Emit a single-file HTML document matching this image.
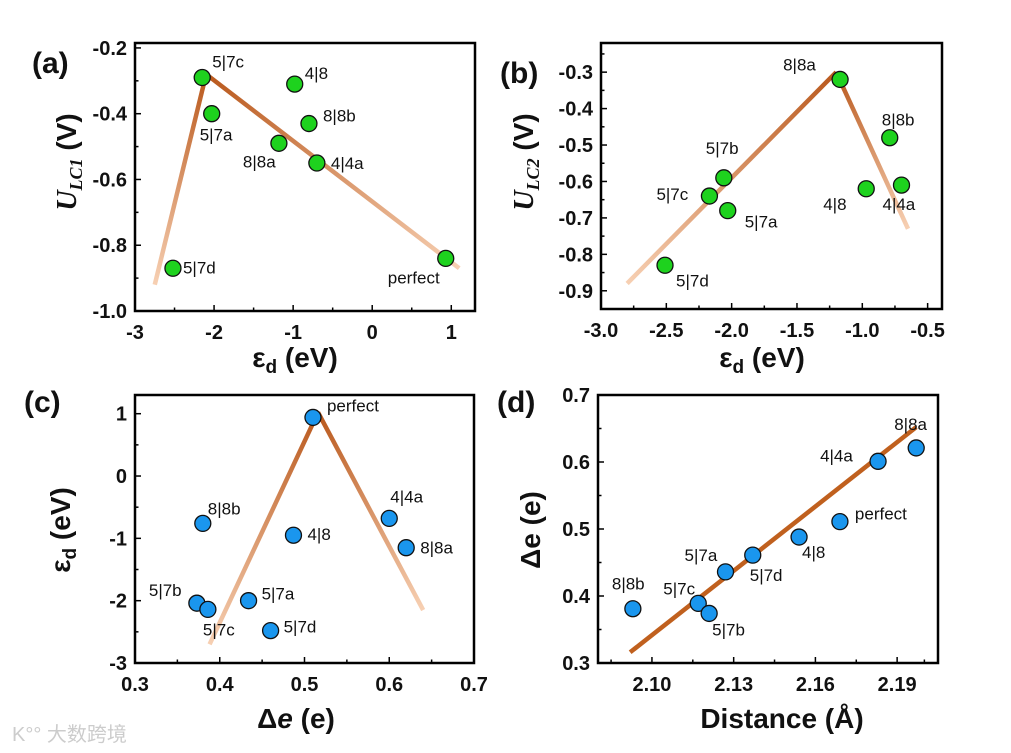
<!DOCTYPE html>
<html><head><meta charset="utf-8">
<style>
body{margin:0;background:#fff;width:1011px;height:753px;overflow:hidden}
svg{display:block}
text{font-family:"Liberation Sans",Arial,sans-serif}
.tick{font-size:20px;font-weight:bold;fill:#111}
.lab{font-size:17px;fill:#111}
.title{font-size:28px;font-weight:bold;fill:#111}
.pl{font-size:30px;font-weight:bold;fill:#111}
</style></head>
<body>
<svg id="fig" width="1011" height="753" viewBox="0 0 1011 753" xmlns="http://www.w3.org/2000/svg">
<defs id="defs"></defs>
<text x="12" y="741" font-family="'Noto Sans CJK SC',sans-serif" font-size="20" fill="#ccc">K°° 大数跨境</text>
</svg>
<script>
// ---- Panel (a) data ----
const aNames=["5|7c","5|7a","4|8","8|8b","8|8a","4|4a","5|7d","perfect"];
const aX=[-2.15,-2.03,-0.98,-0.8,-1.18,-0.7,-2.52,0.93];
const aY=[-0.29,-0.40,-0.31,-0.43,-0.49,-0.55,-0.87,-0.84];
const aLineX=[-2.75,-2.1,1.1];
const aLineY=[-0.92,-0.28,-0.87];
const aXTicks=[-3,-2,-1,0,1];
const aYTicks=[-1.0,-0.8,-0.6,-0.4,-0.2];
// ---- Panel (b) data ----
const bNames=["8|8a","8|8b","4|8","4|4a","5|7b","5|7c","5|7a","5|7d"];
const bX=[-1.17,-0.79,-0.97,-0.7,-2.06,-2.17,-2.03,-2.51];
const bY=[-0.32,-0.48,-0.62,-0.61,-0.59,-0.64,-0.68,-0.83];
const bLineX=[-2.8,-1.2,-0.65];
const bLineY=[-0.88,-0.30,-0.73];
const bXTicks=[-3.0,-2.5,-2.0,-1.5,-1.0,-0.5];
const bYTicks=[-0.9,-0.8,-0.7,-0.6,-0.5,-0.4,-0.3];
// ---- Panel (c) data ----
const cNames=["perfect","4|4a","8|8a","4|8","8|8b","5|7b","5|7c","5|7a","5|7d"];
const cX=[0.51,0.6,0.62,0.487,0.38,0.373,0.386,0.434,0.46];
const cY=[0.94,-0.68,-1.15,-0.95,-0.76,-2.04,-2.14,-2.0,-2.48];
const cLineX=[0.388,0.516,0.64];
const cLineY=[-2.7,1.02,-2.15];
const cXTicks=[0.3,0.4,0.5,0.6,0.7];
const cYTicks=[-3,-2,-1,0,1];
// ---- Panel (d) data ----
const dNames=["8|8b","5|7c","5|7b","5|7a","5|7d","4|8","perfect","4|4a","8|8a"];
const dX=[2.093,2.117,2.121,2.127,2.137,2.154,2.169,2.183,2.197];
const dY=[0.381,0.389,0.374,0.436,0.461,0.488,0.511,0.601,0.621];
const dLineX=[2.092,2.197];
const dLineY=[0.316,0.652];
const dXTicks=[2.10,2.13,2.16,2.19];
const dYTicks=[0.3,0.4,0.5,0.6,0.7];

// label placement offsets (layout only)
const aOff=[[10,-10],[-12,27],[10,-5],[14,-2],[-36,24],[14,6],[10,5],[-58,25]];
const bOff=[[-57,-9],[-8,-12],[-43,21],[-19,25],[-18,-24],[-53,4],[17,17],[11,21]];
const cOff=[[14,-6],[1,-16],[14,6],[14,5],[5,-9],[-48,-7],[-5,26],[13,-1],[13,2]];
const dOff=[[-21,-19],[-35,-9],[3,22],[-41,-11],[-3,26],[3,21],[15,-2],[-58,0],[-22,-18]];

const NS="http://www.w3.org/2000/svg";
const svg=document.getElementById('fig');
const defs=document.getElementById('defs');
function el(tag,attrs,parent){const e=document.createElementNS(NS,tag);for(const k in attrs)e.setAttribute(k,attrs[k]);(parent||svg).appendChild(e);return e;}
let gid=0;

function panel(cfg){
  const g=el('g',{});
  
  
  const sx=v=>cfg.L+(v-cfg.x0)/(cfg.x1-cfg.x0)*(cfg.R-cfg.L);
  const sy=v=>cfg.B-(v-cfg.y0)/(cfg.y1-cfg.y0)*(cfg.B-cfg.T);
  cfg.xt.forEach((v,i)=>{
    const x=sx(v);
    const t=el('line',{x1:x,x2:x,y1:cfg.B,y2:cfg.B-6,stroke:'#000','stroke-width':1.5},g);
    
    
    const tx=el('text',{x:x,y:cfg.B+28,'text-anchor':'middle',class:'tick'},g);
    tx.textContent=cfg.xfmt(v);
    
    
    if(i<cfg.xt.length-1){const m=sx((v+cfg.xt[i+1])/2);
      el('line',{x1:m,x2:m,y1:cfg.B,y2:cfg.B-3.5,stroke:'#000','stroke-width':1.5},g);}
  });
  if(cfg.xMinorEdge){cfg.xMinorEdge.forEach(v=>{const m=sx(v);el('line',{x1:m,x2:m,y1:cfg.B,y2:cfg.B-3.5,stroke:'#000','stroke-width':1.5},g);});}
  cfg.yt.forEach((v,i)=>{
    const y=sy(v);
    const t=el('line',{x1:cfg.L,x2:cfg.L+6,y1:y,y2:y,stroke:'#000','stroke-width':1.5},g);
    
    
    const tx=el('text',{x:cfg.L-8,y:y+7,'text-anchor':'end',class:'tick'},g);
    tx.textContent=cfg.yfmt(v);
    
    
    if(i<cfg.yt.length-1){const m=sy((v+cfg.yt[i+1])/2);
      el('line',{x1:cfg.L,x2:cfg.L+3.5,y1:m,y2:m,stroke:'#000','stroke-width':1.5},g);}
  });
  if(cfg.yMinorEdge){cfg.yMinorEdge.forEach(v=>{const m=sy(v);el('line',{x1:cfg.L,x2:cfg.L+3.5,y1:m,y2:m,stroke:'#000','stroke-width':1.5},g);});}
  for(let i=0;i<cfg.lx.length-1;i++){
    const x1=sx(cfg.lx[i]),y1=sy(cfg.ly[i]),x2=sx(cfg.lx[i+1]),y2=sy(cfg.ly[i+1]);
    let stroke='#c0601e';
    if(cfg.grad){
      const id='gr'+(gid++);
      const peakFirst=(i>0);
      const lg=el('linearGradient',{id:id,gradientUnits:'userSpaceOnUse',x1:x1,y1:y1,x2:x2,y2:y2},defs);
      el('stop',{offset:0,'stop-color':peakFirst?'#b9581c':'#f7d0b3'},lg);
      el('stop',{offset:1,'stop-color':peakFirst?'#f7d0b3':'#b9581c'},lg);
      stroke='url(#'+id+')';
    }
    const ln=el('line',{x1:x1,y1:y1,x2:x2,y2:y2,stroke:stroke,'stroke-width':4.5},g);
    
    
  }
  cfg.px.forEach((v,i)=>{
    const cx=sx(v),cy=sy(cfg.py[i]);
    const c=el('circle',{cx:cx,cy:cy,r:8,fill:cfg.color,stroke:'#111','stroke-width':1.3},g);
    
    
    const t=el('text',{x:cx+cfg.off[i][0],y:cy+cfg.off[i][1],class:'lab'},g);
    t.textContent=cfg.names[i];
    
    
  });
  const box=el('rect',{x:cfg.L,y:cfg.T,width:cfg.R-cfg.L,height:cfg.B-cfg.T,fill:'none',stroke:'#000','stroke-width':2.5},g);
  
  
  const pl=el('text',{x:cfg.plx,y:cfg.ply,class:'pl'},g);
  pl.textContent=cfg.plabel;
  
  
  const xt=el('text',{x:cfg.xtx,y:cfg.xty,'text-anchor':'middle',class:'title'},g);
  xt.innerHTML=cfg.xtitle;
  
  
  const yt=el('text',{x:0,y:0,'text-anchor':'middle',class:'title',transform:'translate('+cfg.ytx+','+cfg.yty+') rotate(-90)'},g);
  yt.innerHTML=cfg.ytitle;
  
  
}
const f1=v=>v.toFixed(1), f0=v=>String(v), f2=v=>v.toFixed(2);
const epsT='ε<tspan font-size="19" dy="6">d</tspan><tspan dy="-6"> (eV)</tspan>';
panel({id:'a',L:135,R:475,T:43,B:311,x0:-3,x1:1.3,y0:-1.0,y1:-0.185,xt:aXTicks,yt:aYTicks,xMinorEdge:[],yMinorEdge:[],
  xfmt:f0,yfmt:f1,px:aX,py:aY,names:aNames,off:aOff,lx:aLineX,ly:aLineY,grad:true,color:'#1ed21e',
  plabel:'(a)',plx:32,ply:73,xtitle:epsT,xtx:295,xty:367,
  ytitle:'<tspan font-family="Liberation Serif" font-style="italic">U</tspan><tspan font-family="Liberation Serif" font-style="italic" font-size="18" dy="6">LC1</tspan><tspan dy="-6"> (V)</tspan>',ytx:76,yty:162});
panel({id:'b',L:601,R:942,T:43,B:309,x0:-3,x1:-0.39,y0:-0.95,y1:-0.22,xt:bXTicks,yt:bYTicks,xMinorEdge:[],yMinorEdge:[-0.25],
  xfmt:f1,yfmt:f1,px:bX,py:bY,names:bNames,off:bOff,lx:bLineX,ly:bLineY,grad:true,color:'#1ed21e',
  plabel:'(b)',plx:500,ply:83,xtitle:epsT,xtx:762,xty:367,
  ytitle:'<tspan font-family="Liberation Serif" font-style="italic">U</tspan><tspan font-family="Liberation Serif" font-style="italic" font-size="18" dy="6">LC2</tspan><tspan dy="-6"> (V)</tspan>',ytx:533,yty:162});
panel({id:'c',L:135,R:474,T:395,B:663,x0:0.3,x1:0.7,y0:-3,y1:1.3,xt:cXTicks,yt:cYTicks,xMinorEdge:[],yMinorEdge:[],
  xfmt:f1,yfmt:f0,px:cX,py:cY,names:cNames,off:cOff,lx:cLineX,ly:cLineY,grad:true,color:'#1a96ee',
  plabel:'(c)',plx:24,ply:412,xtitle:'Δ<tspan font-style="italic">e</tspan> (e)',xtx:296,xty:728,
  ytitle:epsT,ytx:70,yty:530});
panel({id:'d',L:598,R:938,T:395,B:663,x0:2.0802,x1:2.205,y0:0.3,y1:0.7,xt:dXTicks,yt:dYTicks,xMinorEdge:[2.085,2.2],yMinorEdge:[],
  xfmt:f2,yfmt:f1,px:dX,py:dY,names:dNames,off:dOff,lx:dLineX,ly:dLineY,grad:false,color:'#1a96ee',
  plabel:'(d)',plx:497,ply:412,xtitle:'Distance (Å)',xtx:782,xty:728,
  ytitle:'Δe (e)',ytx:540,yty:530});
</script>
</body></html>
